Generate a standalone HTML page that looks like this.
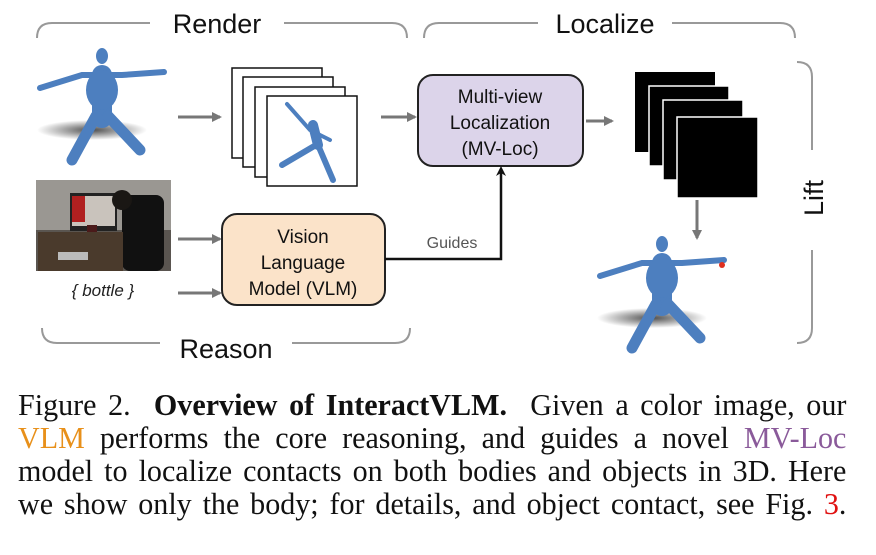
<!DOCTYPE html>
<html><head><meta charset="utf-8"><style>
html,body{margin:0;padding:0;background:#fff;width:876px;height:555px;overflow:hidden}
svg{position:absolute;left:0;top:0}
.cap{position:absolute;left:18px;width:854px;font-family:"Liberation Serif",serif;font-size:31px;line-height:31px;color:#111;text-align:justify;text-align-last:justify;white-space:nowrap;transform:scaleX(0.97);transform-origin:0 0}
</style></head><body>
<svg width="876" height="380" viewBox="0 0 876 380" font-family="Liberation Sans, sans-serif">
<defs>
<marker id="ga" markerWidth="10" markerHeight="10" refX="8" refY="5" orient="auto" markerUnits="userSpaceOnUse"><path d="M0,0 L10,5 L0,10 z" fill="#777"/></marker>
<marker id="ka" markerWidth="12" markerHeight="12" refX="6" refY="6" orient="auto" markerUnits="userSpaceOnUse"><path d="M0,1 L10,6 L0,11 L3,6 z" fill="#111"/></marker>
<radialGradient id="sh" cx="0.5" cy="0.5" r="0.5"><stop offset="0" stop-color="#222" stop-opacity="0.8"/><stop offset="1" stop-color="#222" stop-opacity="0"/></radialGradient>
<g id="body">
<ellipse cx="-10" cy="80" rx="55" ry="10" fill="url(#sh)"/>
<g stroke="#4d7fbf" stroke-linecap="round" fill="none">
<path d="M-62,38 L-20,25 L20,25 L62,22" stroke-width="6"/>
<path d="M0,25 L0,68" stroke-width="20"/>
<path d="M-6,66 L-30,110" stroke-width="11"/>
<path d="M6,66 L38,100" stroke-width="11"/>
</g>
<ellipse cx="0" cy="6" rx="6" ry="8" fill="#4d7fbf"/>
<ellipse cx="0" cy="40" rx="16" ry="20" fill="#4d7fbf"/>
</g>
</defs>
<g fill="none" stroke="#999" stroke-width="2">
<path d="M37,38 Q37,23 52,23 L150,23 M284,23 L392,23 Q407,23 407,38"/>
<path d="M424,38 Q424,23 439,23 L538,23 M672,23 L780,23 Q795,23 795,38"/>
<path d="M42,328 Q42,343 57,343 L160,343 M292,343 L395,343 Q410,343 410,328"/>
<path d="M797,62 Q812,62 812,77 L812,150 M812,250 L812,328 Q812,343 797,343"/>
</g>
<g font-size="27" fill="#111" text-anchor="middle">
<text x="217" y="33">Render</text>
<text x="605" y="33">Localize</text>
<text x="226" y="358">Reason</text>
<text transform="translate(823,198) rotate(-90)">Lift</text>
</g>
<use href="#body" x="102" y="50"/>
<g stroke="#111" stroke-width="1.5" fill="#fff">
<rect x="232" y="68" width="90" height="90"/>
<rect x="243" y="77" width="90" height="90"/>
<rect x="255" y="87" width="90" height="90"/>
<rect x="267" y="96" width="90" height="90"/>
</g>
<g stroke="#4d7fbf" stroke-linecap="round" fill="none">
<path d="M287,104 L310,130 L330,140" stroke-width="4"/>
<path d="M313,125 L318,145" stroke-width="10"/>
<path d="M316,145 L282,165 M318,145 L333,180" stroke-width="6"/>
</g>
<line x1="178" y1="117" x2="220" y2="117" stroke="#777" stroke-width="3" marker-end="url(#ga)"/>
<line x1="381" y1="117" x2="415" y2="117" stroke="#777" stroke-width="3" marker-end="url(#ga)"/>
<line x1="586" y1="121" x2="612" y2="121" stroke="#777" stroke-width="3" marker-end="url(#ga)"/>
<line x1="697" y1="200" x2="697" y2="238" stroke="#777" stroke-width="3" marker-end="url(#ga)"/>
<line x1="178" y1="239" x2="220" y2="239" stroke="#777" stroke-width="3" marker-end="url(#ga)"/>
<line x1="178" y1="293" x2="220" y2="293" stroke="#777" stroke-width="3" marker-end="url(#ga)"/>
<rect x="418" y="75" width="165" height="91" rx="15" fill="#dcd4ea" stroke="#222" stroke-width="2"/>
<g font-size="19" fill="#111" text-anchor="middle">
<text x="500" y="103">Multi-view</text>
<text x="500" y="129">Localization</text>
<text x="500" y="155">(MV-Loc)</text>
</g>
<rect x="222" y="214" width="163" height="91" rx="15" fill="#fbe3c9" stroke="#222" stroke-width="2"/>
<g font-size="19" fill="#111" text-anchor="middle">
<text x="303" y="243">Vision</text>
<text x="303" y="269">Language</text>
<text x="303" y="295">Model (VLM)</text>
</g>
<path d="M385,259 L501,259 L501,170" fill="none" stroke="#111" stroke-width="2.5" marker-end="url(#ka)"/>
<text x="452" y="248" font-size="16" fill="#555" text-anchor="middle">Guides</text>
<g fill="#000">
<rect x="635" y="72" width="80" height="80"/>
<rect x="649" y="86" width="80" height="80" stroke="#fff" stroke-width="1.5"/>
<rect x="663" y="100" width="80" height="80" stroke="#fff" stroke-width="1.5"/>
<rect x="677" y="117" width="81" height="81" stroke="#fff" stroke-width="1.5"/>
</g>
<use href="#body" x="662" y="238"/>
<circle cx="722" cy="265" r="3" fill="#e03020"/>
<rect x="36" y="180" width="135" height="91" fill="#5a5550"/>
<rect x="36" y="180" width="135" height="50" fill="#9a9792"/>
<rect x="70" y="193" width="47" height="38" fill="#222"/>
<rect x="72" y="196" width="43" height="30" fill="#c9c3bc"/>
<rect x="72" y="196" width="13" height="26" fill="#b02020"/>
<rect x="122" y="195" width="42" height="76" fill="#111" rx="8"/>
<circle cx="122" cy="200" r="10" fill="#1a1714"/>
<rect x="87" y="225" width="10" height="38" fill="#4a1a1a"/>
<rect x="38" y="232" width="85" height="39" fill="#4a3a2c"/>
<rect x="58" y="252" width="30" height="8" fill="#bbb"/>
<text x="103" y="296" font-size="17" font-style="italic" fill="#222" text-anchor="middle">{ bottle }</text>
</svg>
<div class="cap" style="top:389px">Figure 2.&nbsp; <b>Overview of InteractVLM.</b>&nbsp; Given a color image, our</div>
<div class="cap" style="top:422px"><span style="color:#e8901a">VLM</span> performs the core reasoning, and guides a novel <span style="color:#8a5a9a">MV-Loc</span></div>
<div class="cap" style="top:455px">model to localize contacts on both bodies and objects in 3D. Here</div>
<div class="cap" style="top:488px">we show only the body; for details, and object contact, see Fig. <span style="color:#e01010">3</span>.</div>
</body></html>
